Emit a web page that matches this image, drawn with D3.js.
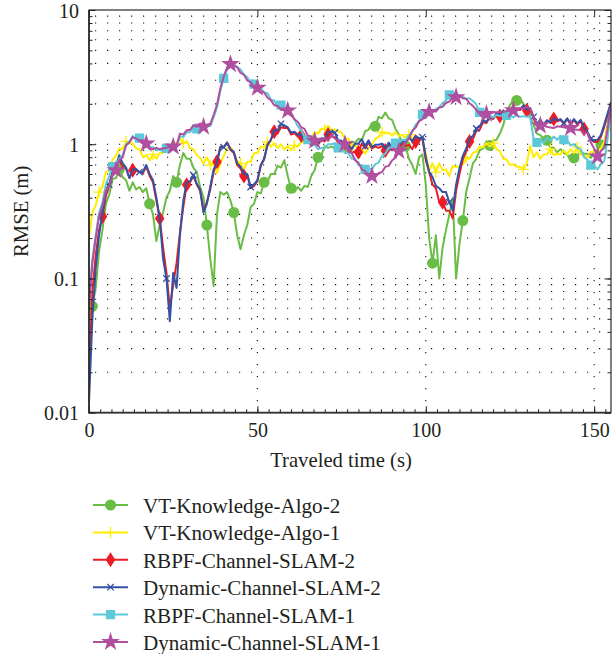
<!DOCTYPE html>
<html>
<head>
<meta charset="utf-8">
<script src="https://cdn.jsdelivr.net/npm/d3@7"></script>
<style>
  body { margin: 0; background: #fff; }
  svg text { font-family: "Liberation Serif", "Times New Roman", "DejaVu Serif", serif; fill: #231f20; }
</style>
</head>
<body>
<div id="chart"></div>
<script>
// sampling instants (s), one value per second
const time = d3.range(0, 156);

// RMSE (m), t = 0..155
const vtAlgo2 = [
  0.05, 0.062, 0.085, 0.16, 0.23, 0.36, 0.42, 0.55, 0.56, 0.65,
  0.57, 0.54, 0.45, 0.52, 0.46, 0.48, 0.44, 0.47, 0.36, 0.3,
  0.19, 0.25, 0.31, 0.4, 0.45, 0.58, 0.52, 0.7, 0.86, 0.78,
  0.78, 0.67, 0.62, 0.48, 0.4, 0.25, 0.14, 0.088, 0.3, 0.44,
  0.42, 0.44, 0.38, 0.31, 0.21, 0.165, 0.21, 0.25, 0.34, 0.36,
  0.44, 0.43, 0.52, 0.53, 0.6, 0.6, 0.69, 0.67, 0.76, 0.58,
  0.47, 0.44, 0.48, 0.45, 0.49, 0.48, 0.58, 0.64, 0.8, 0.83,
  0.97, 0.94, 0.96, 0.93, 1.03, 1.0, 1.01, 0.95, 1.05, 1.02,
  1.1, 1.07, 1.25, 1.28, 1.42, 1.36, 1.6, 1.56, 1.72, 1.56,
  1.52, 1.3, 1.18, 1.02, 0.97, 0.78, 0.7, 0.6, 0.8, 0.84,
  0.5, 0.2, 0.13, 0.21, 0.1, 0.17, 0.23, 0.3, 0.4, 0.1,
  0.18, 0.27, 0.44, 0.56, 0.72, 0.78, 0.9, 0.93, 1.05, 0.98,
  1.06, 1.08, 1.2, 1.38, 1.78, 1.95, 2.14, 2.12, 2.18, 2.0,
  1.88, 1.58, 1.4, 1.2, 1.17, 1.1, 1.07, 0.95, 0.94, 0.87,
  0.92, 0.86, 0.84, 0.76, 0.79, 0.82, 0.88, 0.85, 0.85, 0.79,
  0.9, 0.9, 0.99, 1.01, 1.4, 2.05
];
const vtAlgo1 = [
  0.2, 0.31, 0.35, 0.44, 0.48, 0.62, 0.64, 0.77, 0.82, 0.93,
  0.92, 1.05, 1.02, 1.01, 0.93, 0.92, 0.8, 0.83, 0.76, 0.84,
  0.78, 0.86, 0.86, 0.95, 0.93, 1.03, 1.01, 1.11, 1.02, 1.05,
  0.93, 0.92, 0.83, 0.79, 0.72, 0.8, 0.7, 0.73, 0.61, 0.72,
  0.82, 0.93, 0.95, 0.87, 0.75, 0.72, 0.65, 0.74, 0.74, 0.86,
  0.86, 0.96, 0.94, 1.04, 0.96, 1.02, 0.94, 1.0, 0.91, 0.97,
  0.9, 0.98, 0.96, 1.04, 1.04, 1.13, 1.12, 1.23, 1.2, 1.31,
  1.29, 1.37, 1.27, 1.29, 1.25, 1.22, 1.1, 1.1, 0.98, 0.98,
  0.92, 0.92, 0.85, 0.94, 0.98, 1.1, 1.13, 1.23, 1.2, 1.22,
  1.16, 1.23, 1.15, 1.17, 1.12, 1.18, 1.1, 1.16, 1.08, 1.1,
  0.85, 0.64, 0.72, 0.62, 0.72, 0.64, 0.65, 0.58, 0.69, 0.68,
  0.68, 0.71, 0.79, 0.78, 0.86, 0.88, 0.96, 0.95, 1.02, 0.96,
  1.02, 0.92, 0.89, 0.78, 0.77, 0.7, 0.71, 0.68, 0.68, 0.65,
  0.72, 0.97, 0.8, 0.87, 0.78, 0.84, 0.84, 0.92, 0.83, 0.85,
  0.84, 0.9, 0.84, 0.92, 0.86, 0.95, 0.84, 0.82, 0.8, 0.88,
  0.88, 0.87, 0.93, 1.05, 1.3, 1.75
];
const rbpfSlam2 = [
  0.02, 0.08, 0.15, 0.23, 0.29, 0.41, 0.49, 0.62, 0.66, 0.76,
  0.68, 0.66, 0.56, 0.64, 0.64, 0.62, 0.61, 0.68, 0.58, 0.52,
  0.38, 0.28, 0.17, 0.11, 0.06, 0.09, 0.13, 0.22, 0.34, 0.5,
  0.52, 0.58, 0.5, 0.45, 0.32, 0.37, 0.46, 0.62, 0.74, 0.96,
  0.95, 1.03, 0.91, 0.86, 0.7, 0.66, 0.58, 0.59, 0.47, 0.49,
  0.53, 0.69, 0.77, 1.0, 1.08, 1.24, 1.2, 1.34, 1.32, 1.32,
  1.18, 1.21, 1.14, 1.16, 1.05, 1.07, 0.97, 1.01, 0.99, 1.08,
  1.05, 1.18, 1.14, 1.13, 1.02, 1.03, 0.93, 0.95, 0.86, 0.89,
  0.87, 1.01, 0.93, 1.03, 0.93, 0.96, 0.94, 0.97, 0.9, 0.98,
  0.9, 1.0, 0.92, 1.01, 0.97, 0.99, 0.92, 1.05, 1.07, 1.11,
  0.76, 0.62, 0.5, 0.47, 0.37, 0.37, 0.32, 0.32, 0.28, 0.45,
  0.6, 0.77, 0.88, 1.05, 1.09, 1.26, 1.28, 1.46, 1.44, 1.59,
  1.54, 1.67, 1.62, 1.75, 1.64, 1.8, 1.75, 1.83, 1.8, 1.92,
  1.78, 1.82, 1.55, 1.38, 1.5, 1.38, 1.49, 1.44, 1.54, 1.48,
  1.52, 1.42, 1.54, 1.4, 1.51, 1.4, 1.48, 1.3, 1.22, 1.08,
  1.04, 1.04, 1.14, 1.35, 1.65, 2.0
];
const dynSlam2 = [
  0.012, 0.05, 0.12, 0.21, 0.31, 0.44, 0.5, 0.63, 0.68, 0.83,
  0.72, 0.67, 0.56, 0.65, 0.65, 0.62, 0.62, 0.7, 0.6, 0.54,
  0.4, 0.28, 0.14, 0.1, 0.048, 0.11, 0.085, 0.21, 0.38, 0.52,
  0.53, 0.59, 0.51, 0.46, 0.31, 0.36, 0.48, 0.65, 0.73, 0.95,
  0.95, 1.03, 0.92, 0.88, 0.72, 0.68, 0.6, 0.6, 0.48, 0.5,
  0.54, 0.7, 0.78, 0.98, 1.08, 1.28, 1.26, 1.42, 1.38, 1.34,
  1.22, 1.24, 1.18, 1.18, 1.07, 1.09, 1.0, 1.03, 1.02, 1.11,
  1.09, 1.24, 1.24, 1.22, 1.07, 1.06, 0.97, 0.99, 0.92, 1.01,
  1.01, 1.09, 0.97, 1.07, 0.95, 0.99, 0.99, 1.01, 0.93, 1.03,
  0.94, 1.05, 0.96, 1.06, 1.03, 1.13, 1.05, 1.15, 1.11, 1.13,
  0.8, 0.62, 0.57, 0.49, 0.47, 0.44, 0.44, 0.37, 0.32, 0.5,
  0.66, 0.82, 0.93, 1.11, 1.15, 1.31, 1.35, 1.52, 1.46, 1.62,
  1.56, 1.7, 1.66, 1.79, 1.66, 1.83, 1.78, 1.85, 1.82, 1.95,
  1.81, 1.86, 1.6, 1.42, 1.52, 1.4, 1.51, 1.46, 1.56, 1.5,
  1.54, 1.44, 1.56, 1.42, 1.54, 1.43, 1.52, 1.33, 1.24, 1.1,
  1.07, 1.08, 1.17, 1.4, 1.7, 2.05
];
const rbpfSlam1 = [
  0.07, 0.14, 0.21, 0.31, 0.37, 0.5, 0.58, 0.68, 0.68, 0.78,
  0.83, 1.0, 1.05, 1.15, 1.07, 1.11, 1.04, 1.03, 0.94, 0.95,
  0.9, 0.91, 0.89, 0.93, 0.92, 0.96, 0.95, 1.15, 1.13, 1.23,
  1.23, 1.33, 1.3, 1.39, 1.31, 1.35, 1.37, 1.58, 1.88, 2.5,
  3.1, 3.6, 3.85, 3.95, 3.75, 3.6, 3.3, 3.15, 2.85, 2.8,
  2.6, 2.63, 2.43, 2.4, 2.15, 2.12, 1.94, 1.96, 1.85, 1.85,
  1.68, 1.54, 1.36, 1.27, 1.13, 1.08, 0.98, 0.99, 0.92, 0.94,
  0.93, 1.0, 1.0, 1.02, 0.94, 0.94, 0.86, 0.86, 0.78, 0.78,
  0.7, 0.7, 0.65, 0.66, 0.65, 0.71, 0.73, 0.82, 0.85, 0.94,
  0.95, 1.02, 1.02, 1.08, 1.07, 1.17, 1.24, 1.4, 1.48, 1.67,
  1.73, 1.8, 1.74, 1.83, 1.88, 2.03, 2.12, 2.33, 2.4, 2.4,
  2.28, 2.25, 2.17, 2.2, 2.1, 1.98, 1.73, 1.66, 1.58, 1.64,
  1.58, 1.65, 1.63, 1.64, 1.64, 1.65, 1.58, 1.66, 1.6, 1.62,
  1.6, 1.6, 1.1, 1.03, 1.1, 1.02, 1.12, 1.06, 1.14, 1.08,
  1.15, 1.08, 1.07, 0.98, 1.0, 0.94, 0.92, 0.8, 0.77, 0.7,
  0.69, 0.65, 0.71, 0.75, 1.1, 1.9
];
const dynSlam1 = [
  0.06, 0.13, 0.2, 0.29, 0.35, 0.45, 0.49, 0.58, 0.64, 0.76,
  0.8, 0.98, 1.03, 1.13, 1.1, 1.07, 1.07, 1.01, 0.93, 0.92,
  0.94, 0.92, 0.93, 0.94, 0.96, 0.96, 0.98, 1.2, 1.18, 1.27,
  1.28, 1.38, 1.35, 1.43, 1.35, 1.39, 1.42, 1.65, 1.97, 2.6,
  3.2, 3.7, 3.95, 3.85, 3.75, 3.4, 3.3, 2.98, 2.9, 2.66,
  2.63, 2.48, 2.43, 2.22, 2.13, 1.95, 1.93, 1.8, 1.8, 1.78,
  1.72, 1.53, 1.47, 1.34, 1.3, 1.16, 1.14, 1.06, 1.07, 1.05,
  1.12, 1.06, 1.17, 1.1, 1.07, 1.0, 1.0, 0.88, 0.86, 0.76,
  0.73, 0.65, 0.63, 0.58, 0.58, 0.57, 0.61, 0.62, 0.68, 0.69,
  0.76, 0.79, 0.89, 0.92, 1.04, 1.1, 1.26, 1.33, 1.49, 1.53,
  1.76, 1.74, 1.76, 1.75, 1.88, 1.9, 2.03, 2.08, 2.25, 2.24,
  2.3, 2.2, 2.18, 2.02, 1.93, 1.8, 1.68, 1.58, 1.68, 1.7,
  1.72, 1.73, 1.74, 1.74, 1.76, 1.78, 1.79, 1.78, 1.85, 1.84,
  1.9, 1.85, 1.6, 1.4, 1.38, 1.38, 1.35, 1.33, 1.32, 1.36,
  1.35, 1.34, 1.32, 1.32, 1.29, 1.28, 1.27, 1.2, 1.22, 1.03,
  0.93, 0.81, 0.89, 0.94, 1.3, 2.0
];

// instants where each curve carries a marker
const vtAlgo2Marks = [1, 9, 18, 26, 35, 43, 52, 60, 68, 77, 85, 94, 102, 111, 119, 127, 136, 144, 152];
const vtAlgo1Marks = [3, 11, 19, 28, 36, 45, 53, 61, 70, 78, 87, 95, 103, 112, 120, 129, 137, 145, 154];
const rbpfSlam2Marks = [4, 13, 21, 29, 38, 46, 55, 63, 71, 80, 88, 97, 105, 113, 122, 130, 138, 147];
const dynSlam2Marks = [6, 15, 23, 31, 40, 48, 57, 65, 73, 82, 90, 99, 107, 115, 124, 132, 141, 149];
const rbpfSlam1Marks = [7, 15, 23, 32, 40, 49, 57, 65, 74, 82, 91, 99, 107, 116, 124, 133, 141, 149];
const dynSlam1Marks = [8, 17, 25, 34, 42, 50, 59, 67, 76, 84, 92, 101, 109, 118, 126, 134, 143, 151];

const seriesNames = ["VT-Knowledge-Algo-2", "VT-Knowledge-Algo-1", "RBPF-Channel-SLAM-2",
  "Dynamic-Channel-SLAM-2", "RBPF-Channel-SLAM-1", "Dynamic-Channel-SLAM-1"];
const seriesColors = ["#69bd45", "#ffed00", "#ed1c24", "#3451a3", "#5dc8d9", "#b04fa0"];
const seriesShapes = ["circle", "plus", "diamond", "cross", "square", "star"];

const xTicks = [0, 50, 100, 150];
const yTicks = [0.01, 0.1, 1, 10];
const yTickLabels = ["0.01", "0.1", "1", "10"];

const FONT = "'Liberation Serif', 'Times New Roman', 'DejaVu Serif', serif";

const series = [
  { values: vtAlgo2, marks: vtAlgo2Marks },
  { values: vtAlgo1, marks: vtAlgo1Marks },
  { values: rbpfSlam2, marks: rbpfSlam2Marks },
  { values: dynSlam2, marks: dynSlam2Marks },
  { values: rbpfSlam1, marks: rbpfSlam1Marks },
  { values: dynSlam1, marks: dynSlam1Marks }
].map((s, i) => ({ ...s, name: seriesNames[i], color: seriesColors[i], shape: seriesShapes[i] }));

const height = 654,
  width = 612;

const svg = d3.select("#chart")
  .append("svg")
  .attr("width", width)
  .attr("height", height)
  .attr("font-family", FONT);

const x = d3.scaleLinear().domain([0, 155]).range([89, 611]);
const y = d3.scaleLog().domain([0.01, 10]).range([412.7, 10]);

// minor log values for grid + small ticks
const minorY = [];
[0.01, 0.1, 1].forEach(dec => d3.range(1, 10).forEach(m => {
  if (m > 1 || dec > 0.01) minorY.push(m * dec);
}));

// dotted grid
const grid = svg.append("g").attr("stroke", "#111").attr("stroke-width", 1.1)
  .attr("stroke-dasharray", "1.2,10.8");
grid.selectAll(".h").data(minorY).join("line")
  .attr("x1", x(0) + 6).attr("x2", x(155))
  .attr("y1", d => y(d)).attr("y2", d => y(d));
grid.selectAll(".v").data(xTicks.slice(1)).join("line")
  .attr("x1", d => x(d)).attr("x2", d => x(d))
  .attr("y1", y(10) + 6).attr("y2", y(0.01));

svg.append("clipPath").attr("id", "plot")
  .append("rect").attr("x", x(0)).attr("y", y(10)).attr("width", x(155) - x(0)).attr("height", y(0.01) - y(10));

// marker shapes
function symbolPath(shape) {
  if (shape === "circle") return d3.symbol(d3.symbolCircle, 95)();
  if (shape === "square") return d3.symbol(d3.symbolSquare, 85)();
  if (shape === "star") return d3.symbol(d3.symbolStar, 110)();
  if (shape === "diamond") return "M0,-7.5L4.8,0L0,7.5L-4.8,0Z";
  if (shape === "plus") return "M-5.5,0H5.5M0,-5.5V5.5";
  return "M-3.2,-3.2L3.2,3.2M-3.2,3.2L3.2,-3.2";
}
const stroked = shape => shape === "plus" || shape === "cross";

const line = d3.line()
  .x((d, i) => x(time[i]))
  .y(d => y(d));

const plot = svg.append("g").attr("clip-path", "url(#plot)");

series.forEach(s => {
  const g = plot.append("g");
  g.append("path")
    .attr("d", line(s.values))
    .attr("fill", "none")
    .attr("stroke", s.color)
    .attr("stroke-width", 2)
    .attr("stroke-linejoin", "round");
  g.selectAll("path.mk")
    .data(s.marks)
    .join("path")
    .attr("class", "mk")
    .attr("transform", t => `translate(${x(t)},${y(s.values[time.indexOf(t)])})`)
    .attr("d", symbolPath(s.shape))
    .attr("fill", stroked(s.shape) ? "none" : s.color)
    .attr("stroke", stroked(s.shape) ? s.color : "none")
    .attr("stroke-width", 1.3);
});

// frame
svg.append("rect")
  .attr("x", x(0)).attr("y", y(10))
  .attr("width", x(155) - x(0)).attr("height", y(0.01) - y(10))
  .attr("fill", "none").attr("stroke", "#000").attr("stroke-width", 1);
svg.append("path")
  .attr("d", `M${x(0)},${y(10)}V${y(0.01)}H${x(155)}`)
  .attr("fill", "none").attr("stroke", "#333").attr("stroke-width", 1.8);

// axes (ticks pointing inward)
function styleAxis(g) {
  g.attr("font-family", FONT);
  g.select(".domain").remove();
  g.selectAll("line").attr("stroke", "#222");
  g.selectAll("text").attr("font-family", FONT).attr("font-size", 20).attr("fill", "#231f20");
}

svg.append("g").attr("transform", `translate(${x(0)},0)`)
  .call(d3.axisLeft(y).tickValues(minorY).tickSize(-3.5).tickFormat(""))
  .call(styleAxis);
svg.append("g").attr("transform", `translate(${x(0)},0)`)
  .call(d3.axisLeft(y).tickValues(yTicks).tickSizeInner(-6.5).tickSizeOuter(0).tickPadding(10)
    .tickFormat((d, i) => yTickLabels[i]))
  .call(styleAxis)
  .selectAll("text").attr("dy", "0.36em");
svg.append("g").attr("transform", `translate(${x(155)},0)`)
  .call(d3.axisRight(y).tickValues(minorY).tickSize(-3.5).tickFormat(""))
  .call(styleAxis);
svg.append("g").attr("transform", `translate(${x(155)},0)`)
  .call(d3.axisRight(y).tickValues(yTicks).tickSize(-6.5).tickFormat(""))
  .call(styleAxis);

svg.append("g").attr("transform", `translate(0,${y(0.01)})`)
  .call(d3.axisBottom(x).tickValues(d3.range(0, 155, 10 / 3)).tickSize(-3.5).tickFormat(""))
  .call(styleAxis);
svg.append("g").attr("transform", `translate(0,${y(0.01)})`)
  .call(d3.axisBottom(x).tickValues(xTicks).tickSizeInner(-6.5).tickSizeOuter(0).tickPadding(10)
    .tickFormat(d3.format("d")))
  .call(styleAxis);
svg.append("g").attr("transform", `translate(0,${y(10)})`)
  .call(d3.axisTop(x).tickValues(xTicks).tickSize(-6.5).tickFormat(""))
  .call(styleAxis);

// axis titles
svg.append("text")
  .attr("x", 341).attr("y", 467)
  .attr("text-anchor", "middle")
  .attr("font-family", FONT)
  .attr("font-size", 20.7)
  .text("Traveled time (s)");
svg.append("text")
  .attr("transform", `translate(28,${(y(10) + y(0.01)) / 2}) rotate(-90)`)
  .attr("text-anchor", "middle")
  .attr("font-family", FONT)
  .attr("font-size", 20.7)
  .text("RMSE (m)");

// legend
const legend = svg.append("g")
  .selectAll("g")
  .data(series)
  .join("g")
  .attr("transform", (d, i) => `translate(0,${505 + i * 27.4})`);
legend.append("line")
  .attr("x1", 93).attr("x2", 128)
  .attr("stroke", d => d.color).attr("stroke-width", 2);
legend.append("path")
  .attr("transform", "translate(110.5,0)")
  .attr("d", d => symbolPath(d.shape))
  .attr("fill", d => stroked(d.shape) ? "none" : d.color)
  .attr("stroke", d => stroked(d.shape) ? d.color : "none")
  .attr("stroke-width", 1.3);
legend.append("text")
  .attr("x", 143).attr("y", 8)
  .attr("font-family", FONT)
  .attr("font-size", 21.1)
  .text(d => d.name);
</script>
</body>
</html>
